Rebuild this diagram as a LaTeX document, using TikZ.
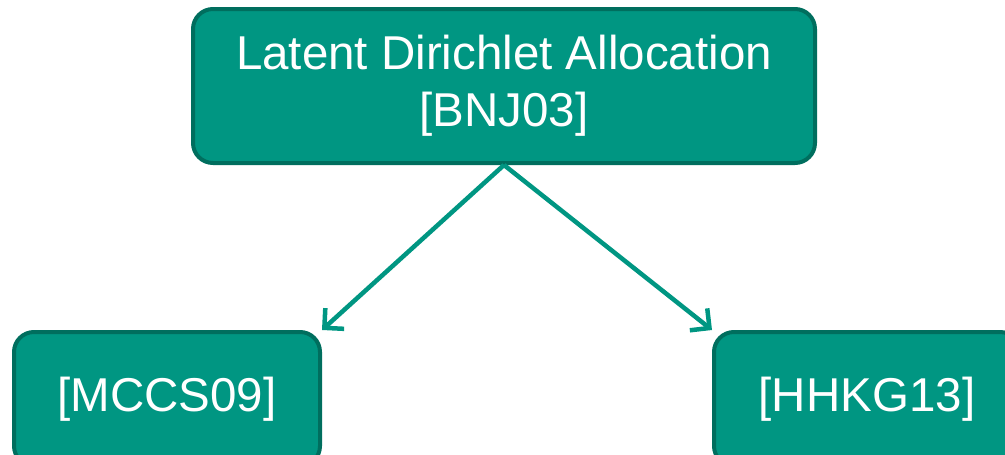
\documentclass[tikz,border=0pt]{standalone}
\usepackage{fontspec}
\setmainfont{Liberation Sans}
\usetikzlibrary{arrows.meta}
\definecolor{boxfill}{HTML}{009682}
\definecolor{boxline}{HTML}{006E5E}
\definecolor{linkcol}{HTML}{009682}
\begin{document}
\begin{tikzpicture}[x=1pt,y=-1pt,
  refbox/.style={draw=boxline, line width=4pt, fill=boxfill, rounded corners=20pt,
    text=white, align=center, font=\fontsize{47.5}{57}\selectfont, inner sep=0pt},
  link/.style={draw=linkcol, line width=4.5pt, -{Straight Barb[length=14pt,width=28pt,line width=4.5pt]}}]
  \useasboundingbox (0,0) rectangle (1005,455);
  \clip (0,0) rectangle (1005,455);
  \node[refbox, minimum width=622pt, minimum height=154pt] (lda) at (504,86)
    {\rule{0pt}{6pt}Latent Dirichlet Allocation\\{}[BNJ03]};
  \node[refbox, minimum width=306pt, minimum height=134pt] (mccs) at (167,399) {[MCCS09]};
  \node[refbox, minimum width=306pt, minimum height=134pt] (hhkg) at (867,399) {[HHKG13]};
  \draw[link] (lda.south) -- (mccs.north east);
  \draw[link] (lda.south) -- (hhkg.north west);
\end{tikzpicture}
\end{document}
